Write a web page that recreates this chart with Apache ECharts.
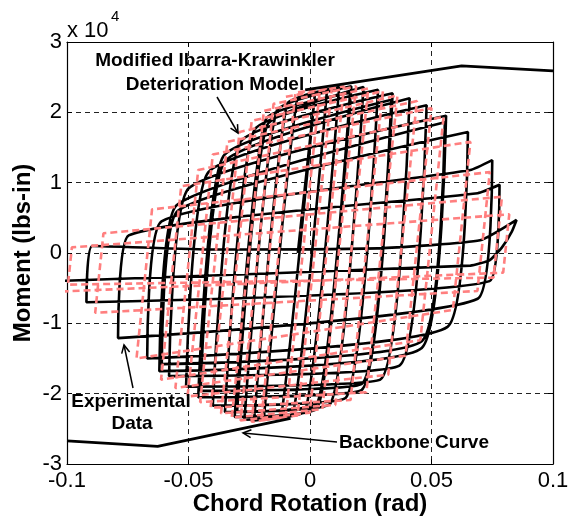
<!DOCTYPE html>
<html><head><meta charset="utf-8">
<script src="https://cdn.jsdelivr.net/npm/echarts@6/dist/echarts.min.js"></script>
<style>html,body{margin:0;padding:0;background:#fff}#c{width:573px;height:519px}</style>
</head><body><div id="c"></div>
<script>
// Tick labels
const xTickLabels = ['-0.1', '-0.05', '0', '0.05', '0.1'];
const yTickLabels = ['-3', '-2', '-1', '0', '1', '2', '3'];

const experimental = [
  [-0.005, 0.0],
  [0.002, 2.25], [-0.0117, -2.28], [-0.019, -2.35], [-0.0053, 2.18],
  [0.007, 2.32], [-0.0069, -2.27], [-0.023, -2.38], [-0.0094, 2.12],
  [0.012, 2.36], [-0.0019, -2.24], [-0.027, -2.37], [-0.0137, 2.02],
  [0.017, 2.37], [0.0032, -2.20], [-0.031, -2.33], [-0.0182, 1.90],
  [0.0165, 2.28], [0.0032, -2.12], [-0.030, -2.26], [-0.0176, 1.82],
  [0.022, 2.36], [0.0084, -2.14], [-0.035, -2.26], [-0.0229, 1.75],
  [0.028, 2.32], [0.0147, -2.06], [-0.040, -2.17], [-0.0286, 1.58],
  [0.034, 2.27], [0.0212, -1.95], [-0.046, -2.05], [-0.0356, 1.38],
  [0.0335, 2.18], [0.0213, -1.86], [-0.045, -1.96], [-0.0351, 1.30],
  [0.041, 2.20], [0.0289, -1.80], [-0.051, -1.90], [-0.0418, 1.15],
  [0.048, 2.10], [0.0368, -1.60], [-0.058, -1.75], [-0.0499, 0.92],
  [0.056, 1.95], [0.046, -1.35], [-0.062, -1.68], [-0.0549, 0.68],
  [0.0555, 1.86], [0.0461, -1.25], [-0.061, -1.58], [-0.0544, 0.60],
  [0.065, 1.72], [0.0566, -1.05], [-0.067, -1.50], [-0.0611, 0.45],
  [0.066, 1.18], [0.075, 1.32], [0.069, -0.65], [-0.079, -1.21], [-0.0746, 0.25],
  [0.069, 0.85], [0.078, 0.97], [0.0739, -0.40], [-0.092, -0.70], [-0.0896, 0.10],
  [-0.04, 0.05], [0.03, 0.07], [0.07, 0.18], [0.085, 0.47],
  [0.083, 0.30], [0.079, 0.08], [0.074, -0.10], [0.066, -0.18], [-0.105, -0.40]
];

// Modified Ibarra-Krawinkler deterioration model
const model = [
  [-0.003, 0.0],
  [0.004, 2.30], [-0.0100, -2.33], [-0.0201, -2.38], [-0.006, 2.28],
  [0.009, 2.35], [-0.0051, -2.31], [-0.0240, -2.40], [-0.010, 2.22],
  [0.014, 2.37], [-0.0001, -2.27], [-0.0286, -2.38], [-0.015, 2.12],
  [0.019, 2.37], [0.0051, -2.22], [-0.0322, -2.34], [-0.019, 2.02],
  [0.024, 2.34], [0.0104, -2.16], [-0.0366, -2.28], [-0.024, 1.88],
  [0.030, 2.30], [0.0167, -2.09], [-0.0409, -2.20], [-0.029, 1.72],
  [0.036, 2.24], [0.0232, -1.98], [-0.0452, -2.12], [-0.034, 1.58],
  [0.044, 2.16], [0.0322, -1.73], [-0.0504, -2.04], [-0.040, 1.40],
  [0.050, 2.06], [0.0393, -1.46], [-0.0554, -1.92], [-0.046, 1.18],
  [0.055, 1.94], [0.0454, -1.24], [-0.0613, -1.80], [-0.053, 0.95],
  [0.066, 1.58], [0.0588, -0.81], [-0.0714, -1.50], [-0.065, 0.62],
  [0.074, 1.15], [0.0689, -0.54], [-0.0884, -0.85], [-0.085, 0.28],
  [0.079, 0.80], [0.0755, -0.35], [-0.0996, -0.45], [-0.098, 0.08],
  [0.082, 0.55], [0.0795, -0.28], [-0.104, -0.55]
];

// Backbone curve
const backboneNeg = [[-0.1, -2.67], [-0.0627, -2.75], [-0.008, -2.35]];
const backbonePos = [[-0.002, 2.32], [0.0624, 2.66], [0.1, 2.59]];

const FONT = "'Liberation Sans', Arial, Helvetica, sans-serif";
const chart = echarts.init(document.getElementById('c'), null, {renderer: 'canvas'});

const gridLine = {show: true, lineStyle: {color: '#222', width: 1, type: [5, 4]}};
const tick = {show: true, inside: true, length: 5, lineStyle: {color: '#000', width: 1}};
const axLine = {show: true, onZero: false, lineStyle: {color: '#000', width: 1.2}};

chart.setOption({
  animation: false,
  backgroundColor: '#fff',
  grid: {left: 67, right: 20, top: 42, bottom: 55, containLabel: false},
  xAxis: [
    {type: 'value', min: -0.1, max: 0.1, interval: 0.05, position: 'bottom',
     axisLine: axLine, axisTick: tick, splitLine: gridLine,
     axisLabel: {color: '#000', fontSize: 22, fontFamily: FONT, margin: 6,
                 formatter: (v, i) => xTickLabels[i]}},
    {type: 'value', min: -0.1, max: 0.1, interval: 0.05, position: 'top',
     axisLine: axLine, axisTick: tick, splitLine: {show: false}, axisLabel: {show: false}}
  ],
  yAxis: [
    {type: 'value', min: -3, max: 3, interval: 1, position: 'left',
     axisLine: axLine, axisTick: tick, splitLine: gridLine,
     axisLabel: {color: '#000', fontSize: 22, fontFamily: FONT, margin: 5,
                 formatter: (v, i) => yTickLabels[i]}},
    {type: 'value', min: -3, max: 3, interval: 1, position: 'right',
     axisLine: axLine, axisTick: tick, splitLine: {show: false}, axisLabel: {show: false}}
  ],
  series: [
    {type: 'line', data: experimental, showSymbol: false, smooth: 0.15, clip: true,
     lineStyle: {color: '#000', width: 2.6}, z: 2},
    {type: 'line', data: model, showSymbol: false, clip: true,
     lineStyle: {color: '#ff7f7f', width: 2.6, type: [7, 4]}, z: 3},
    {type: 'line', data: backboneNeg, showSymbol: false, clip: true,
     lineStyle: {color: '#000', width: 2.8}, z: 4},
    {type: 'line', data: backbonePos, showSymbol: false, clip: true,
     lineStyle: {color: '#000', width: 2.8}, z: 4}
  ],
  graphic: [
    {type: 'text', left: 67, top: 20, style: {text: 'x 10', font: '22px ' + FONT, fill: '#000'}},
    {type: 'text', left: 111, top: 9, style: {text: '4', font: '15px ' + FONT, fill: '#000'}},
    {type: 'text', x: 310, y: 504, style: {text: 'Chord Rotation (rad)', font: 'bold 24px ' + FONT, fill: '#000', align: 'center', verticalAlign: 'middle'}},
    {type: 'text', x: 23, y: 253, rotation: Math.PI / 2, style: {text: 'Moment (lbs-in)', font: 'bold 24px ' + FONT, fill: '#000', align: 'center', verticalAlign: 'middle'}},
    {type: 'text', x: 215, y: 61, z: 10, style: {text: 'Modified Ibarra-Krawinkler', font: 'bold 19px ' + FONT, fill: '#000', align: 'center', verticalAlign: 'middle'}},
    {type: 'text', x: 215, y: 85, z: 10, style: {text: 'Deterioration Model', font: 'bold 19px ' + FONT, fill: '#000', align: 'center', verticalAlign: 'middle'}},
    {type: 'text', x: 131, y: 402, z: 10, style: {text: 'Experimental', font: 'bold 19px ' + FONT, fill: '#000', align: 'center', verticalAlign: 'middle'}},
    {type: 'text', x: 132, y: 424, z: 10, style: {text: 'Data', font: 'bold 19px ' + FONT, fill: '#000', align: 'center', verticalAlign: 'middle'}},
    {type: 'text', x: 414, y: 443, z: 10, style: {text: 'Backbone Curve', font: 'bold 19px ' + FONT, fill: '#000', align: 'center', verticalAlign: 'middle'}},
    {type: 'polyline', z: 10, shape: {points: [[217, 97], [238, 133]]}, style: {stroke: '#000', lineWidth: 1.5, fill: null}},
    {type: 'polyline', z: 10, shape: {points: [[230.5, 128.1], [238, 133], [237.5, 124.1]]}, style: {stroke: '#000', lineWidth: 1.5, fill: null}},
    {type: 'polyline', z: 10, shape: {points: [[133, 388], [124, 345]]}, style: {stroke: '#000', lineWidth: 1.5, fill: null}},
    {type: 'polyline', z: 10, shape: {points: [[129.6, 352.0], [124, 345], [121.7, 353.6]]}, style: {stroke: '#000', lineWidth: 1.5, fill: null}},
    {type: 'polyline', z: 10, shape: {points: [[337, 442], [243, 433]]}, style: {stroke: '#000', lineWidth: 1.5, fill: null}},
    {type: 'polyline', z: 10, shape: {points: [[251.4, 429.8], [243, 433], [250.6, 437.7]]}, style: {stroke: '#000', lineWidth: 1.5, fill: null}}
  ]
});
</script>
</body></html>
